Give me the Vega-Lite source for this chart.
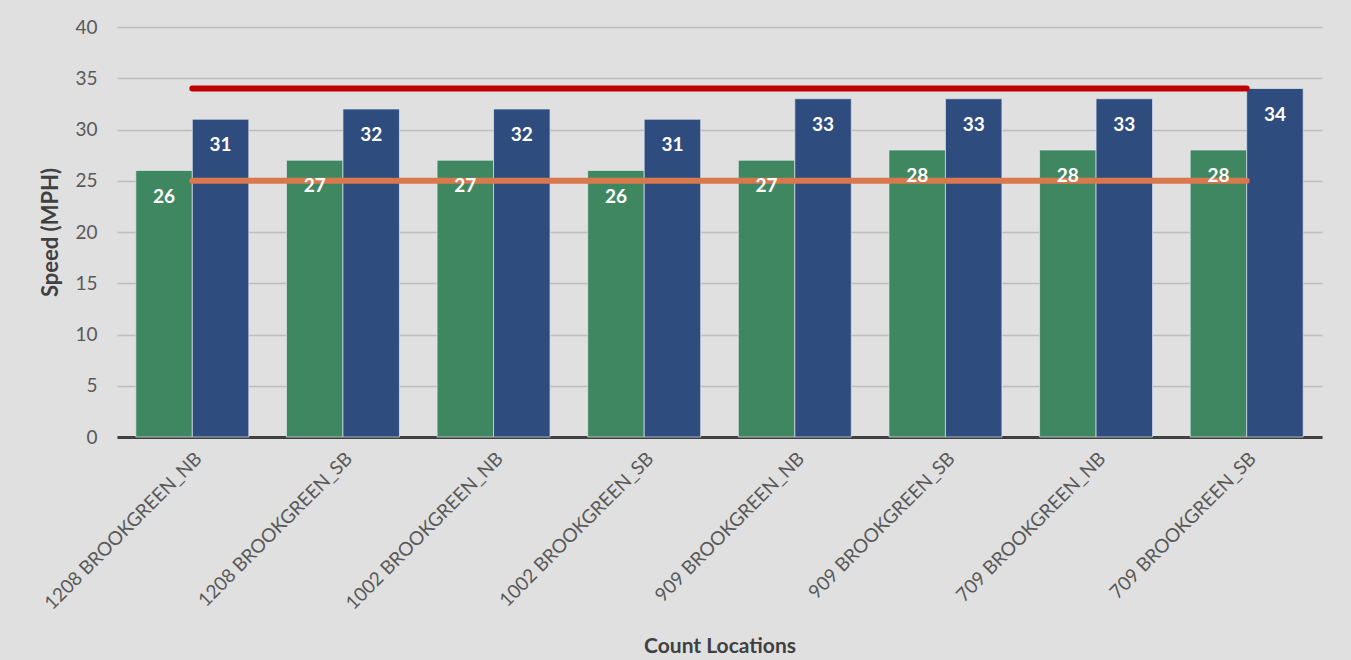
{
  "$schema": "https://vega.github.io/schema/vega-lite/v6.json",
  "width": 1205,
  "height": 410,
  "autosize": {"type": "none"},
  "padding": {"left": 117, "top": 27, "right": 29, "bottom": 223},
  "background": "#e0e0e0",
  "config": {
    "view": {"stroke": null},
    "font": "Lato",
    "axis": {"labelFont": "Lato", "titleFont": "Lato"},
    "axisY": {
      "titleFontSize": 22,
      "titleFontWeight": "bold",
      "titleColor": "#404040",
      "titlePadding": 12,
      "labelFontSize": 19,
      "labelColor": "#595959",
      "labelPadding": 20,
      "ticks": false,
      "domain": false,
      "gridColor": "#bdbdbd",
      "gridWidth": 1.5
    }
  },
  "datasets": {
    "bars": [
      {"loc": "1208 BROOKGREEN_NB", "measure": "Average", "speed": 26},
      {"loc": "1208 BROOKGREEN_NB", "measure": "85th", "speed": 31},
      {"loc": "1208 BROOKGREEN_SB", "measure": "Average", "speed": 27},
      {"loc": "1208 BROOKGREEN_SB", "measure": "85th", "speed": 32},
      {"loc": "1002 BROOKGREEN_NB", "measure": "Average", "speed": 27},
      {"loc": "1002 BROOKGREEN_NB", "measure": "85th", "speed": 32},
      {"loc": "1002 BROOKGREEN_SB", "measure": "Average", "speed": 26},
      {"loc": "1002 BROOKGREEN_SB", "measure": "85th", "speed": 31},
      {"loc": "909 BROOKGREEN_NB", "measure": "Average", "speed": 27},
      {"loc": "909 BROOKGREEN_NB", "measure": "85th", "speed": 33},
      {"loc": "909 BROOKGREEN_SB", "measure": "Average", "speed": 28},
      {"loc": "909 BROOKGREEN_SB", "measure": "85th", "speed": 33},
      {"loc": "709 BROOKGREEN_NB", "measure": "Average", "speed": 28},
      {"loc": "709 BROOKGREEN_NB", "measure": "85th", "speed": 33},
      {"loc": "709 BROOKGREEN_SB", "measure": "Average", "speed": 28},
      {"loc": "709 BROOKGREEN_SB", "measure": "85th", "speed": 34}
    ],
    "lines": [
      {"loc": "1208 BROOKGREEN_NB", "limit": 25, "threshold": 34},
      {"loc": "1208 BROOKGREEN_SB", "limit": 25, "threshold": 34},
      {"loc": "1002 BROOKGREEN_NB", "limit": 25, "threshold": 34},
      {"loc": "1002 BROOKGREEN_SB", "limit": 25, "threshold": 34},
      {"loc": "909 BROOKGREEN_NB", "limit": 25, "threshold": 34},
      {"loc": "909 BROOKGREEN_SB", "limit": 25, "threshold": 34},
      {"loc": "709 BROOKGREEN_NB", "limit": 25, "threshold": 34},
      {"loc": "709 BROOKGREEN_SB", "limit": 25, "threshold": 34}
    ]
  },
  "encoding": {
    "x": {
      "field": "loc",
      "type": "nominal",
      "sort": null,
      "scale": {"paddingInner": 0.25, "paddingOuter": 0.125},
      "axis": {
        "title": "Count Locations",
        "titleFontSize": 21,
        "titleFontWeight": "bold",
        "titleColor": "#404040",
        "titlePadding": 22,
        "labelAngle": -45,
        "labelFontSize": 19,
        "labelLimit": 400,
        "labelColor": "#595959",
        "labelPadding": 12,
        "ticks": false,
        "domainColor": "#404040",
        "domainWidth": 3
      }
    }
  },
  "layer": [
    {
      "data": {"name": "bars"},
      "mark": {"type": "bar", "stroke": "#dfe6ee", "strokeWidth": 1, "strokeOpacity": 0.7},
      "encoding": {
        "xOffset": {"field": "measure", "type": "nominal", "sort": ["Average", "85th"], "scale": {"paddingInner": 0.0}},
        "y": {
          "field": "speed",
          "type": "quantitative",
          "scale": {"domain": [0, 40]},
          "axis": {"title": "Speed (MPH)", "values": [0, 5, 10, 15, 20, 25, 30, 35, 40]}
        },
        "color": {
          "field": "measure",
          "type": "nominal",
          "scale": {"domain": ["Average", "85th"], "range": ["#3f8760", "#2e4c7e"]},
          "legend": null
        }
      }
    },
    {
      "data": {"name": "lines"},
      "mark": {"type": "line", "color": "#d9784c", "strokeWidth": 6, "strokeCap": "round"},
      "encoding": {"y": {"field": "limit", "type": "quantitative", "axis": {"title": "Speed (MPH)", "values": [0, 5, 10, 15, 20, 25, 30, 35, 40]}}}
    },
    {
      "data": {"name": "lines"},
      "mark": {"type": "line", "color": "#c00000", "strokeWidth": 6, "strokeCap": "round"},
      "encoding": {"y": {"field": "threshold", "type": "quantitative", "axis": {"title": "Speed (MPH)", "values": [0, 5, 10, 15, 20, 25, 30, 35, 40]}}}
    },
    {
      "data": {"name": "bars"},
      "mark": {"type": "text", "color": "white", "fontWeight": "bold", "fontSize": 19, "baseline": "middle", "dy": 26},
      "encoding": {
        "xOffset": {"field": "measure", "type": "nominal", "sort": ["Average", "85th"], "scale": {"paddingInner": 0.0}},
        "y": {"field": "speed", "type": "quantitative", "axis": {"title": "Speed (MPH)", "values": [0, 5, 10, 15, 20, 25, 30, 35, 40]}},
        "text": {"field": "speed", "type": "quantitative"}
      }
    }
  ]
}
